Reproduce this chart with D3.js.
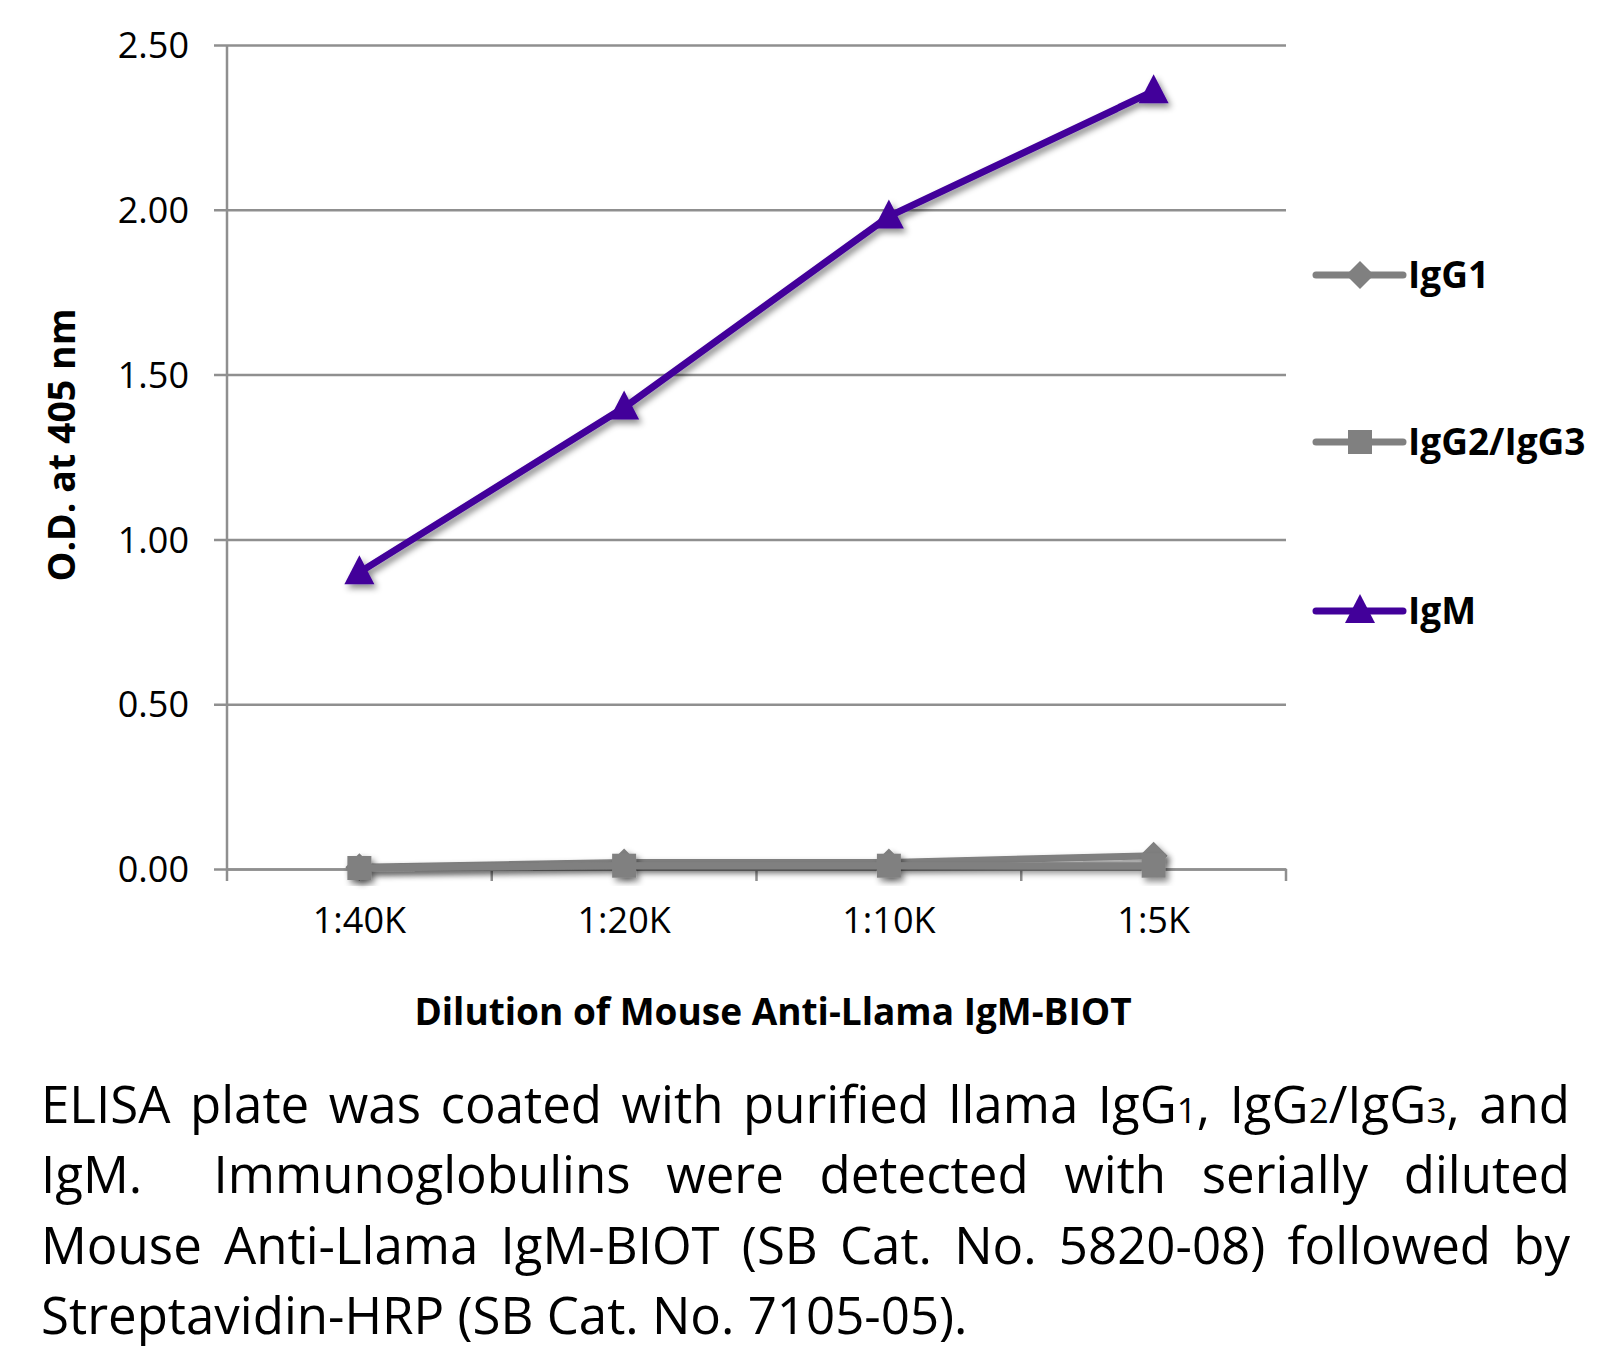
<!DOCTYPE html>
<html><head><meta charset="utf-8">
<script src="https://cdn.jsdelivr.net/npm/d3@7"></script>
<style>body{margin:0;background:#fff}svg{display:block}</style>
</head><body>
<script>
const categories = ["1:40K","1:20K","1:10K","1:5K"];
const seriesNames = ["IgG1","IgG2/IgG3","IgM"];
const igg1 = [0.005, 0.02, 0.02, 0.04];
const igg23 = [0.003, 0.01, 0.01, 0.01];
const igm = [0.90, 1.40, 1.98, 2.36];
const yTicks = [0, 0.5, 1.0, 1.5, 2.0, 2.5];
const yTitle = "O.D. at 405 nm";
const xTitle = "Dilution of Mouse Anti-Llama IgM-BIOT";
const captionLines = [
  [["ELISA plate was coated with purified llama IgG",0],["1",1],[", IgG",0],["2",1],["/IgG",0],["3",1],[", and",0]],
  [["IgM.  Immunoglobulins were detected with serially diluted",0]],
  [["Mouse Anti-Llama IgM-BIOT (SB Cat. No. 5820-08) followed by",0]],
  [["Streptavidin-HRP (SB Cat. No. 7105-05).",0]]
];

(function(){
const W = 1614, H = 1348;
const FONT = "'Open Sans', Lato, sans-serif";
const svg = d3.select("body").append("svg").attr("width", W).attr("height", H);
const defs = svg.append("defs");
const f = defs.append("filter").attr("id","sh").attr("x","-20%").attr("y","-20%").attr("width","140%").attr("height","140%");
f.append("feDropShadow").attr("dx",3).attr("dy",4).attr("stdDeviation",3).attr("flood-color","#000").attr("flood-opacity",0.45);

const pl = 227, pr = 1286, pt = 45, pb = 869;
const x = d3.scaleBand().domain(categories).range([pl, pr]);
const y = d3.scaleLinear().domain([0, 2.5]).range([pb, pt]);
const GRID = "#8f8f8f";

const yAxis = d3.axisLeft(y).tickValues(yTicks).tickFormat(d3.format(".2f")).tickSize(-(pr-pl)).tickPadding(38);
const gy = svg.append("g").attr("transform",`translate(${pl},0)`).call(yAxis);
gy.select(".domain").remove();
gy.selectAll(".tick line").attr("stroke",GRID).attr("stroke-width",2.5).attr("x1",-13);
gy.selectAll(".tick text").attr("font-family",FONT).attr("font-size",36).attr("fill","#000").attr("dy","0.35em");

svg.append("line").attr("x1",pl).attr("x2",pl).attr("y1",pt).attr("y2",pb).attr("stroke",GRID).attr("stroke-width",2.5);

const xAxis = d3.axisBottom(x).tickSize(0).tickPadding(38);
const gx = svg.append("g").attr("transform",`translate(0,${pb})`).call(xAxis);
gx.select(".domain").attr("stroke",GRID).attr("stroke-width",2.5);
gx.selectAll(".tick text").attr("font-family",FONT).attr("font-size",36).attr("fill","#000");
const bounds = categories.map(c => x(c)).concat([pr]);
svg.append("g").selectAll("line").data(bounds).join("line")
  .attr("x1",d=>d).attr("x2",d=>d).attr("y1",pb).attr("y2",pb+12)
  .attr("stroke",GRID).attr("stroke-width",2.5);

svg.append("text").attr("transform",`translate(62,445) rotate(-90)`).attr("text-anchor","middle")
  .attr("dy","0.35em").attr("font-family",FONT).attr("font-weight","bold").attr("font-size",37.5).text(yTitle);
svg.append("text").attr("x",773).attr("y",1012).attr("text-anchor","middle").attr("dy","0.35em")
  .attr("font-family",FONT).attr("font-weight","bold").attr("font-size",37).text(xTitle);

const series = [
  {name:seriesNames[0], values:igg1, color:"#808080", shape:"diamond"},
  {name:seriesNames[1], values:igg23, color:"#808080", shape:"square"},
  {name:seriesNames[2], values:igm, color:"#42009a", shape:"triangle"}
];
function markerPath(shape){
  if(shape==="diamond") return "M0,-14L14,0L0,14L-14,0Z";
  if(shape==="square") return "M-12,-12H12V12H-12Z";
  return "M0,-17L15,12L-15,12Z";
}
const cx = c => x(c) + x.bandwidth()/2;
const line = d3.line().x((d,i)=>cx(categories[i])).y(d=>y(d));
series.forEach(s=>{
  const g = svg.append("g").attr("filter","url(#sh)");
  g.append("path").datum(s.values).attr("d",line).attr("fill","none").attr("stroke",s.color)
    .attr("stroke-width",7).attr("stroke-linejoin","round").attr("stroke-linecap","round");
  g.selectAll("path.m").data(s.values).join("path").attr("class","m")
    .attr("d",markerPath(s.shape)).attr("fill",s.color)
    .attr("transform",(d,i)=>`translate(${cx(categories[i])},${y(d)})`);
});

const legY = [275, 442, 611];
series.forEach((s,i)=>{
  const g = svg.append("g").attr("transform",`translate(1316,${legY[i]})`);
  g.append("line").attr("x1",0).attr("x2",87).attr("stroke",s.color).attr("stroke-width",7).attr("stroke-linecap","round");
  g.append("path").attr("d",markerPath(s.shape)).attr("fill",s.color).attr("transform","translate(44,0)");
  g.append("text").attr("x",92).attr("dy","0.35em").attr("font-family",FONT).attr("font-weight","bold")
    .attr("font-size",37).text(s.name);
});

const capLeft = 41, capRight = 1570, capBase = [1123, 1193, 1264, 1334];
captionLines.forEach((parts,li)=>{
  const t = svg.append("text").attr("x",capLeft).attr("y",capBase[li]).attr("font-family",FONT)
    .attr("font-size",51).attr("fill","#000").attr("xml:space","preserve");
  parts.forEach(p=>{
    t.append("tspan").attr("font-size",p[1]?35:51).text(p[0]);
  });
  if(li < captionLines.length-1){
    const natural = t.node().getComputedTextLength();
    const full = parts.map(p=>p[0]).join("");
    const spaces = (full.match(/ /g)||[]).length;
    const ws = (capRight - capLeft - natural)/spaces;
    t.attr("word-spacing", ws);
  }
});
})();
</script>
</body></html>
